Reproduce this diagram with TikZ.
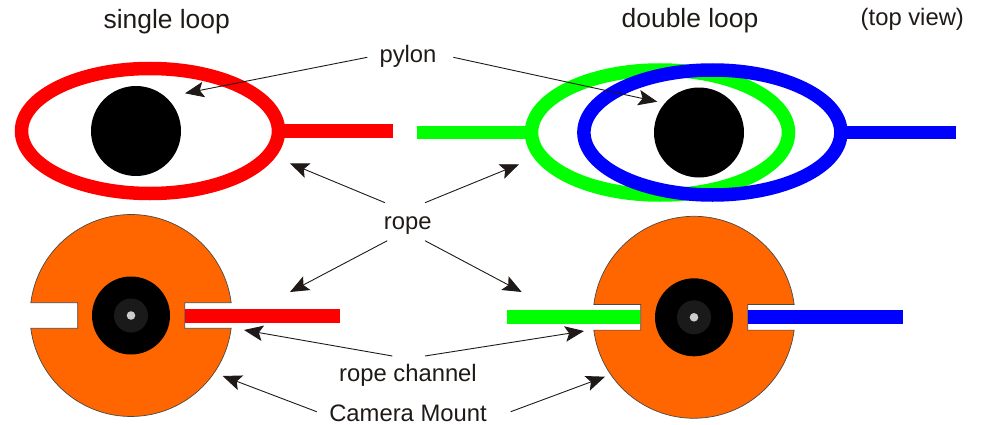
\documentclass[tikz,border=0pt]{standalone}
\usepackage{fontspec}
\setmainfont{Liberation Sans}
\usetikzlibrary{arrows.meta,shapes.geometric}
\definecolor{ink}{HTML}{1F1A17}
\definecolor{mountorange}{HTML}{FF6600}
\definecolor{hubgray}{HTML}{1A1A1A}
\definecolor{pingray}{HTML}{CCCCCC}
\definecolor{ropegreen}{HTML}{00FF00}
\tikzset{
  x=1pt,y=1pt,
  biglabel/.style={text=ink,font=\fontsize{26.4}{30}\selectfont,inner sep=0pt,anchor=base},
  smalllabel/.style={text=ink,font=\fontsize{23.8}{28}\selectfont,inner sep=0pt,anchor=base},
  pointer/.style={draw=ink,line width=0.9pt,-{Stealth[length=19pt,width=15.5pt,inset=4pt]}},
  loopring/.style={ellipse,draw=#1,line width=13.5pt,inner sep=0pt,outer sep=0pt,minimum width=257pt,minimum height=125pt},
  ropeline/.style={draw=#1,line width=13.5pt},
  pylon/.style={circle,fill=black,inner sep=0pt,minimum size=90pt},
  hubouter/.style={circle,fill=black,inner sep=0pt,minimum size=78pt},
  hubmid/.style={circle,fill=hubgray,inner sep=0pt,minimum size=34pt},
  hubpin/.style={circle,fill=pingray,inner sep=0pt,minimum size=8.6pt},
  mountbody/.style={draw=ink!80,line width=0.7pt,fill=mountorange},
}
\newcommand{\mountoutline}{
  (7.3:101) arc[start angle=7.3,end angle=172.7,radius=101]
  -- (-53.3,12.8) -- (-53.3,-12.8) -- (-100.2,-12.8)
  arc[start angle=187.3,end angle=352.7,radius=101]
  -- (53.7,-12.8) -- (53.7,12.8) -- cycle}
\begin{document}
\begin{tikzpicture}
\useasboundingbox (0,0) rectangle (984,424);
% top row
\node[loopring=red] (redloop) at (150,293) {};
\node[pylon] (pylonL) at (136,293) {};
\coordinate (redtopend) at (393.3,293);
\draw[ropeline=red] (redloop.east) -- (redtopend);
\node[loopring=ropegreen] (greenloop) at (660,291.5) {};
\coordinate (greentopend) at (417,291.5);
\draw[ropeline=ropegreen] (greenloop.west) -- (greentopend);
\node[loopring=blue] (blueloop) at (712.4,291.5) {};
\coordinate (bluetopend) at (956,291.5);
\draw[ropeline=blue] (blueloop.east) -- (bluetopend);
\node[pylon] (pylonR) at (699,291.5) {};
% bottom left mount
\begin{scope}[shift={(131,108.5)}]
  \path[mountbody] \mountoutline;
  \node[hubouter] (hubL) at (0,0) {};
  \node[hubmid] (midL) at (0,0) {};
  \node[hubpin] (pinL) at (0,0) {};
\end{scope}
\coordinate (redstart) at (185.3,108);
\coordinate (redend) at (340,108);
\draw[ropeline=red,line width=14pt] (redstart) -- (redend);
% bottom right mount
\begin{scope}[shift={(694,106.7)}]
  \path[mountbody] \mountoutline;
  \node[hubouter] (hubR) at (0,0) {};
  \node[hubmid] (midR) at (0,0) {};
  \node[hubpin] (pinR) at (0,0) {};
\end{scope}
\coordinate (greenstart) at (507,107);
\coordinate (greenend) at (640.3,107);
\draw[ropeline=ropegreen,line width=14pt] (greenstart) -- (greenend);
\coordinate (bluestart) at (748,107);
\coordinate (blueend) at (903,107);
\draw[ropeline=blue,line width=14pt] (bluestart) -- (blueend);
% labels
\node[biglabel] (single) at (166.7,395.7) {single loop};
\node[biglabel] (double) at (690,396.7) {double loop};
\node[smalllabel] (topview) at (912.3,398) {(top view)};
\node[smalllabel] (pylonlabel) at (408,361.7) {pylon};
\node[smalllabel] (ropelabel) at (407.7,195) {rope};
\node[smalllabel] (channellabel) at (408,42.3) {rope channel};
\node[smalllabel] (mountlabel) at (408,2.3) {Camera Mount};
% pointer ends
\coordinate (t1) at (367.3,366.7); \coordinate (h1) at (185,330.7);
\coordinate (t2) at (453.3,366.7); \coordinate (h2) at (657.3,322.3);
\coordinate (t3) at (385,221.3); \coordinate (h3) at (290,260.7);
\coordinate (t4) at (425,221.3); \coordinate (h4) at (519,259.7);
\coordinate (t5) at (387.3,183.3); \coordinate (h5) at (290,132);
\coordinate (t6) at (425,183.3); \coordinate (h6) at (521.7,132);
\coordinate (t7) at (392.3,68);  \coordinate (h7) at (244,94);
\coordinate (t8) at (425,68);  \coordinate (h8) at (584,93);
\coordinate (t9) at (316.7,12.3);\coordinate (h9) at (222.7,48);
\coordinate (t10) at (510.7,12.3);\coordinate (h10) at (605,47.3);
\foreach \n in {1,...,10} \draw[pointer] (t\n) -- (h\n);
\end{tikzpicture}
\end{document}
